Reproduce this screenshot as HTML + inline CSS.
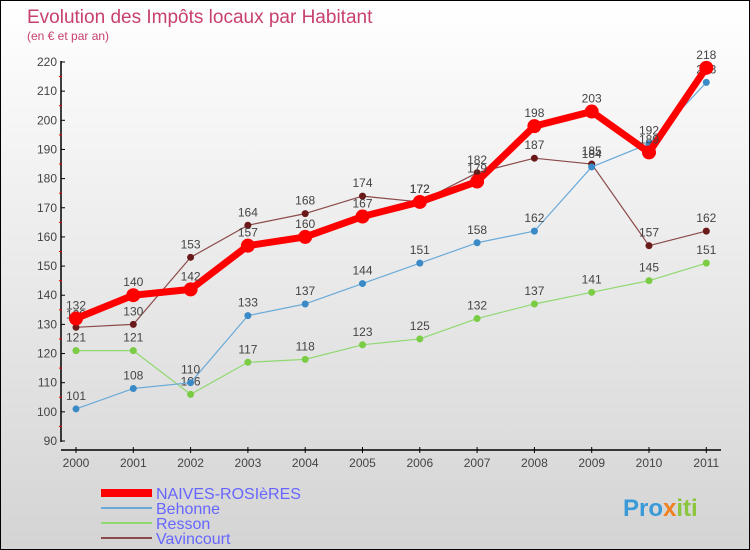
<!DOCTYPE html>
<html><head><meta charset="utf-8"><style>
body{margin:0}
#c{width:748px;height:548px;border:1px solid #000;background:linear-gradient(#fff,#d4d4d4);position:relative;font-family:"Liberation Sans",sans-serif;overflow:hidden}
</style></head><body>
<div id="c">
<svg id="s" width="748" height="548">
<text x="26" y="22" font-size="19" fill="#c84070">Evolution des Impôts locaux par Habitant</text>
<text x="26" y="39" font-size="12" fill="#c84070">(en € et par an)</text>
<g id="g"></g>
<text x="622" y="515" font-size="24" font-weight="bold" fill="#3a9ad9">Pro<tspan fill="#f08020">x</tspan><tspan fill="#8cc63f">iti</tspan></text>
</svg>
</div>
<script>
const years=["2000","2001","2002","2003","2004","2005","2006","2007","2008","2009","2010","2011"];
const yTicks=[90,100,110,120,130,140,150,160,170,180,190,200,210,220];
const naives=[132,140,142,157,160,167,172,179,198,203,189,218];
const behonne=[101,108,110,133,137,144,151,158,162,184,192,213];
const resson=[121,121,106,117,118,123,125,132,137,141,145,151];
const vavincourt=[129,130,153,164,168,174,172,182,187,185,157,162];
const NS="http://www.w3.org/2000/svg";
const g=document.getElementById('g');
function X(i){return 75+i*57.3;}
function Y(v){return 440-(v-90)*379/130;}
function el(t,a,p){const e=document.createElementNS(NS,t);for(const k in a)e.setAttribute(k,a[k]);(p||g).appendChild(e);return e;}
let ax=el('line',{x1:60,y1:60,x2:60,y2:441,stroke:'#000','stroke-width':1.5});


let bx=el('line',{x1:60,y1:449,x2:720,y2:449,stroke:'#000','stroke-width':1.5});


yTicks.forEach((v,i)=>{
 el('line',{x1:60,x2:64,y1:Y(v),y2:Y(v),stroke:'#000'});
 if(i<yTicks.length-1)el('line',{x1:58,x2:61,y1:Y(v+5),y2:Y(v+5),stroke:'#e00'});
 const t=el('text',{x:56,y:Y(v)+4,'text-anchor':'end','font-size':12,fill:'#444'});t.textContent=v;
 
 
});
years.forEach((y,i)=>{
 el('line',{x1:X(i),x2:X(i),y1:446,y2:452,stroke:'#000'});
 const t=el('text',{x:X(i),y:466,'text-anchor':'middle','font-size':12,fill:'#444'});t.textContent=y;
 
 
});
function series(d,col,w,r,name,dot){
 const p=el('polyline',{points:d.map((v,i)=>X(i)+','+Y(v)).join(' '),fill:'none',stroke:col,'stroke-width':w,'stroke-linejoin':'round'});
 
 
 d.forEach((v,i)=>{
  const c=el('circle',{cx:X(i),cy:Y(v),r:r,fill:dot||col});
  
  
  const t=el('text',{x:X(i),y:Y(v)-9,'text-anchor':'middle','font-size':12,fill:'#444'});t.textContent=v;
  
  
 });
}
series(vavincourt,'#8b4a4a',1.2,3.5,'vavincourt','#6b1a1a');
series(resson,'#90d870',1.2,3.5,'resson','#7acc44');
series(behonne,'#6aaad8',1.2,3.5,'behonne','#3a8ac8');
series(naives,'#f00',7,7,'naives');
const leg=[['NAIVES-ROSIèRES','#f00',8,498],['Behonne','#6aaad8',2,513],['Resson','#90d870',2,528],['Vavincourt','#8b4a4a',2,543]];
leg.forEach(l=>{
 const ln=el('line',{x1:100,x2:151,y1:l[3]-6,y2:l[3]-6,stroke:l[1],'stroke-width':l[2]});
 
 
 const t=el('text',{x:155,y:l[3],'font-size':16,fill:'#6666ff'});t.textContent=l[0];
 
 
});
</script>
</body></html>
